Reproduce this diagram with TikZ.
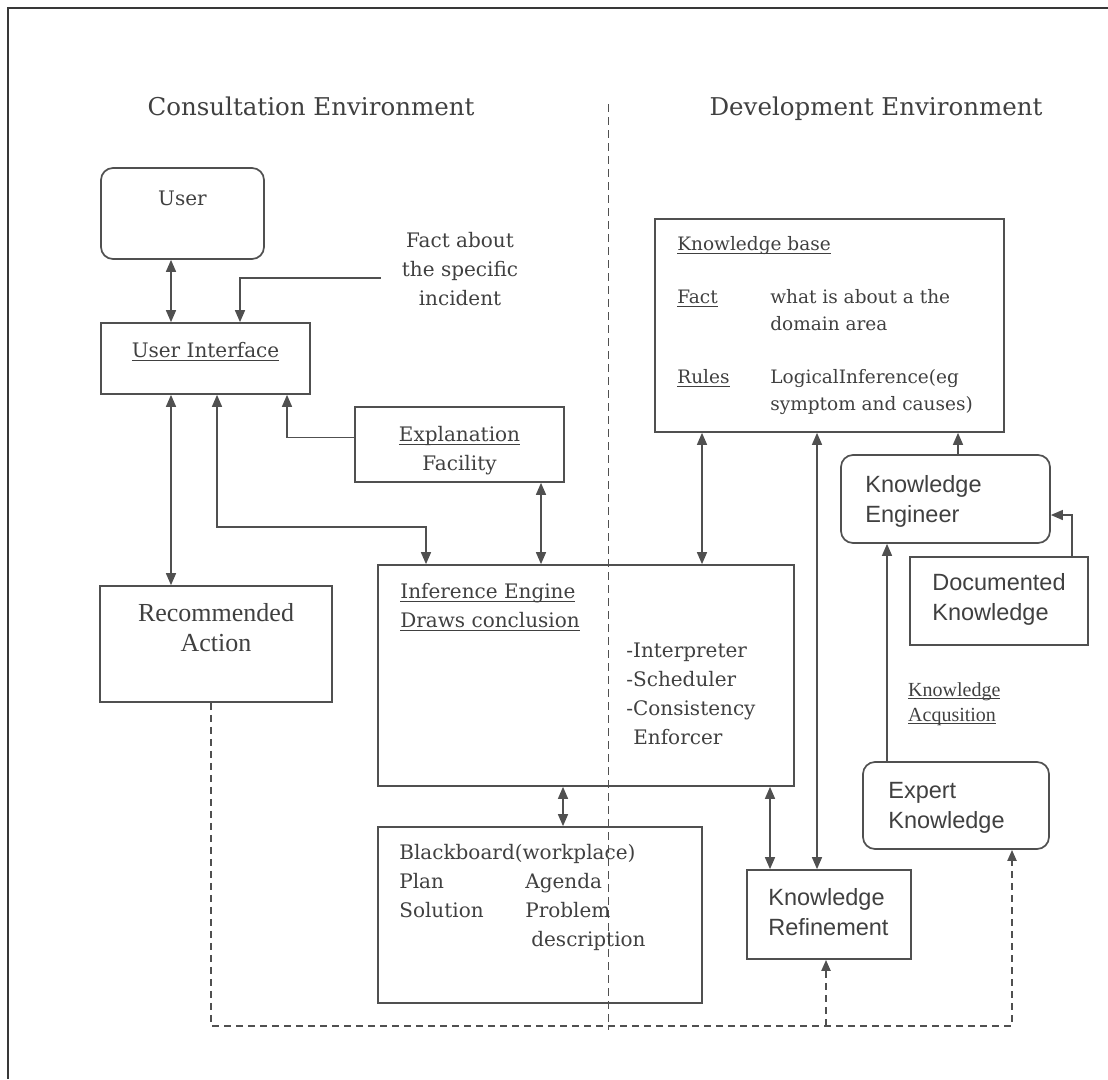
\documentclass[tikz,border=0pt]{standalone}
\usepackage{fontspec}
\setmainfont{DejaVu Serif}
\newfontfamily\timesfont{Liberation Serif}
\newfontfamily\sansfont{Liberation Sans}
\usetikzlibrary{positioning,arrows.meta}
\definecolor{ink}{HTML}{505050}
\definecolor{txtgray}{HTML}{404040}
% underline close to the baseline
\newcommand\ulin[1]{\leavevmode\setbox0=\hbox{#1}\rlap{\rule[-3pt]{\wd0}{0.9pt}}\box0}

\begin{document}
\begin{tikzpicture}[
	x=1pt,y=-1pt,
	every node/.style={text=txtgray},
	box/.style={draw=ink,line width=1.7pt,inner sep=0pt},
	rbox/.style={box,rounded corners=12pt},
	txt/.style={inner sep=0pt,align=left,font=\fontsize{20}{29}\selectfont},
	sanstxt/.style={txt,font=\sansfont\fontsize{23.5}{30}\selectfont},
	arr/.style={draw=ink,line width=1.5pt,-{Triangle[width=10pt,length=12pt]}},
	dblarr/.style={arr,{Triangle[width=10pt,length=12pt]}-{Triangle[width=10pt,length=12pt]}},
	fb/.style={draw=ink,line width=2pt,dash pattern=on 7pt off 5pt},
	divider/.style={draw=ink,line width=1pt,dash pattern=on 8pt off 5pt},
	frame/.style={draw=ink!70!black,line width=2.2pt},
]
\useasboundingbox (0,0) rectangle (1108,1079);

% frame and divider
\draw[frame] (1108,8) -- (8,8) -- (8,1079);
\draw[divider] (608,104) -- (608,1030);

\node[inner sep=0pt,anchor=base,font=\fontsize{24.5}{29}\selectfont] (consult) at (311,115) {Consultation Environment};
\node[inner sep=0pt,anchor=base,font=\fontsize{24.5}{29}\selectfont] (develop) at (876,115) {Development Environment};

% Consultation side
\node[rbox,minimum width=163pt,minimum height=91pt] (user) at (182.5,213.5) {};
\node[txt,below=24pt of user.north] (usertext) {User};

\node[box,minimum width=209pt,minimum height=71pt] (ui) at (205.5,358.5) {};
\node[txt,below=20pt of ui.north] (uitext) {\ulin{User Interface}};

\node[txt,align=center,anchor=north] (fact) at (460,232) {Fact about\\the specific\\incident};

\node[box,minimum width=209pt,minimum height=75pt] (expl) at (459.5,444.5) {};
\node[txt,align=center,below=20pt of expl.north] (expltext) {\ulin{Explanation}\\Facility};

\node[box,minimum width=232pt,minimum height=116pt] (rec) at (216,644) {};
\node[txt,align=center,font=\timesfont\fontsize{26}{30}\selectfont,below=18pt of rec.north] (rectext) {Recommended\\Action};

\node[box,minimum width=416pt,minimum height=221pt] (ie) at (586,675.5) {};
\node[txt,below right=19pt and 23pt of ie.north west] (ietext) {\ulin{Inference Engine}\\\ulin{Draws conclusion}};
\node[txt,below right=79pt and 249pt of ie.north west] (ieparts) {-Interpreter\\-Scheduler\\-Consistency\\\hspace*{7pt}Enforcer};

\node[box,minimum width=324pt,minimum height=176pt] (bb) at (540,915) {};
\node[txt,below right=18pt and 22pt of bb.north west] (bbtext) {Blackboard(workplace)\\\makebox[126pt][l]{Plan}Agenda\\\makebox[126pt][l]{Solution}Problem\\\hspace*{132pt}description};

% Development side
\node[box,minimum width=349pt,minimum height=213pt] (kb) at (829.5,325.5) {};
\node[txt,font=\fontsize{18.5}{27}\selectfont,below right=18pt and 23pt of kb.north west] (kbtext) {\ulin{Knowledge base}\\[26pt]
	\makebox[93pt][l]{\ulin{Fact}}what is about a the\\
	\hspace*{93pt}domain area\\[26pt]
	\makebox[93pt][l]{\ulin{Rules}}LogicalInference(eg\\
	\hspace*{93pt}symptom and causes)};

\node[rbox,minimum width=209pt,minimum height=88pt] (ke) at (945.5,499) {};
\node[sanstxt,below right=21pt and 25pt of ke.north west] (ketext) {Knowledge\\Engineer};

\node[box,minimum width=178pt,minimum height=88pt] (dk) at (999,601) {};
\node[sanstxt,below right=17pt and 23pt of dk.north west] (dktext) {Documented\\Knowledge};

\node[txt,font=\timesfont\fontsize{20}{25}\selectfont,anchor=north west] (acq) at (908,682) {\ulin{Knowledge}\\\ulin{Acqusition}};

\node[rbox,minimum width=186pt,minimum height=87pt] (ek) at (956,805.5) {};
\node[sanstxt,below right=21pt and 26pt of ek.north west] (ektext) {Expert\\Knowledge};

\node[box,minimum width=164pt,minimum height=89pt] (kr) at (829,914.5) {};
\node[sanstxt,below right=19pt and 22pt of kr.north west] (krtext) {Knowledge\\Refinement};

% Connections
\draw[dblarr] ([xshift=-11.5pt]user.south) -- ([xshift=-11.5pt]user.south |- ui.north);
\draw[arr] ([xshift=-21pt,yshift=-9pt]fact.west) -| ([xshift=34.5pt]ui.north);
\draw[dblarr] ([xshift=-34.5pt]ui.south) -- ([xshift=-34.5pt]ui.south |- rec.north);
\draw[dblarr] ([xshift=11.5pt]ui.south) -- ++(0,132) -| ([xshift=-160pt]ie.north);
\draw[arr] ([yshift=7pt]expl.west) -| ([xshift=81.5pt]ui.south);
\draw[dblarr] ([xshift=81.5pt]expl.south) -- ([xshift=81.5pt]expl.south |- ie.north);
\draw[dblarr] ([xshift=23pt]bb.north) -- ([xshift=23pt]bb.north |- ie.south);

\draw[dblarr] ([xshift=-127.5pt]kb.south) -- ([xshift=-127.5pt]kb.south |- ie.north);
\draw[dblarr] ([xshift=-12.5pt]kb.south) -- ([xshift=-12.5pt]kb.south |- kr.north);
\draw[dblarr] ([xshift=-59pt]kr.north) -- ([xshift=-59pt]kr.north |- ie.south);
\draw[arr] ([xshift=12.5pt]ke.north) -- ([xshift=12.5pt]ke.north |- kb.south);
\draw[arr] ([xshift=73pt]dk.north) |- ([yshift=-16pt]ke.east);
\draw[arr] ([xshift=-69pt]ek.north) -- ([xshift=-69pt]ek.north |- ke.south);

% feedback loop
\draw[fb,-{Triangle[width=9pt,length=11pt]}] ([xshift=-5pt]rec.south) -- ++(0,323) -| ([xshift=56pt]ek.south);
\draw[fb,-{Triangle[width=9pt,length=11pt]}] ([xshift=-3pt]kr.south) ++(0,66) -- ([xshift=-3pt]kr.south);

\end{tikzpicture}
\end{document}
